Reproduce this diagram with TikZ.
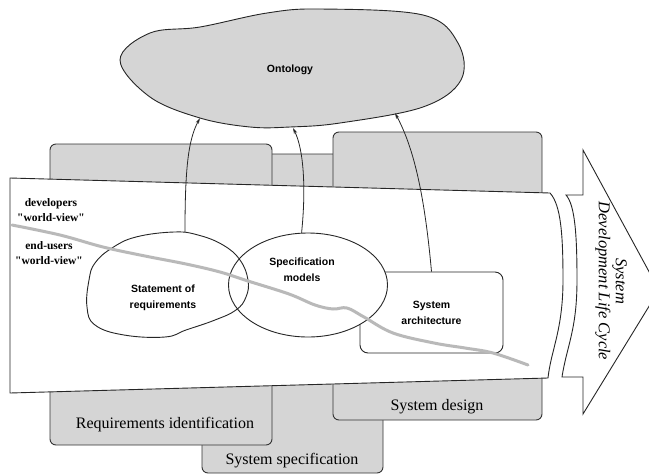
\documentclass[tikz,border=0pt]{standalone}
\usepackage{fontspec}
\setmainfont{Liberation Serif}
\setsansfont{Liberation Sans}
\usetikzlibrary{shapes.geometric, positioning, arrows.meta}
\tikzset{
    phase/.style = {draw=black!80, line width=0.9pt, fill=gray!33, rounded corners=6pt},
    phase label/.style = {font=\fontsize{16}{18}\selectfont},
    artefact/.style = {draw=black!85, line width=0.9pt},
    artefact label/.style = {font=\sffamily\bfseries\fontsize{10.5}{16}\selectfont, align=center},
    view label/.style = {font=\bfseries\fontsize{11.5}{15}\selectfont, align=center},
    refines/.style = {draw=black!85, line width=0.8pt, -{Stealth[length=6pt,width=3.5pt]}},
    divide/.style = {draw=gray!55, line width=3pt, line cap=round},
}

\begin{document}
\begin{tikzpicture}[x=1pt, y=-1pt]
            \clip (0,0) rectangle (649,475);

            \draw[phase] (202,154) rectangle (383,473);
            \draw[phase] (50,144) rectangle (272,445);
            \draw[phase] (333,132) rectangle (542,420);
            \node[phase label] (reqid) at (165,425) {Requirements identification};
            \node[phase label] (sysspec) at (292,461) {System specification};
            \node[phase label] (sysdes) at (437,407) {System design};

            \draw[artefact, fill=white] (10,178) -- (550,193)
                .. controls (561,205) and (563,235) .. (563,280)
                .. controls (563,330) and (551,350) .. (548,378) -- (10,393) -- cycle;

            \draw[artefact, fill=white] (583,150) -- (659,290) -- (583,414) -- (583,377) -- (562,377)
                .. controls (567,345) and (577,330) .. (577,280)
                .. controls (577,235) and (575,205) .. (566,195) -- (583,195) -- cycle;
            \node[rotate=-90, align=center, font=\itshape\fontsize{16.5}{17}\selectfont] (sdlc) at (611,281) {System\\Development Life Cycle};

            \draw[artefact, fill=gray!33] plot[smooth cycle, tension=0.6] coordinates {(120,60) (150,33) (200,27) (267,13) (320,9) (423,15) (458,43) (461,80) (423,107) (340,123) (290,127) (250,127) (200,118) (150,97)};
            \node[artefact label, font=\sffamily\bfseries\fontsize{10.5}{13}\selectfont] (onto) at (290,70) {Ontology};
            \coordinate (onto a) at (200,118);
            \coordinate (onto b) at (293,128);
            \coordinate (onto c) at (395,113);

            \node[artefact, fill=white, rounded corners=8pt, minimum width=143pt, minimum height=81pt, artefact label] (arch) at (431.5,312.5) {System\\architecture};
            \node[artefact, fill=white, ellipse, minimum width=159pt, minimum height=104pt] (spec) at (308,285) {};
            \node[artefact label] (spectxt) at (302,270) {Specification\\models};

            \draw[artefact] plot[smooth cycle, tension=0.7] coordinates {(112,248) (136,237) (174,232) (198,235) (223,245) (240,260) (248,280) (246,297) (236,310) (215,320) (186,330) (165,337) (124,335) (95,325) (87,307) (89,280) (95,263)};
            \node[artefact label] (stmt) at (163,298) {Statement of\\requirements};
            \coordinate (stmt top) at (185,232);

            \node[view label] (dev) at (51,210) {developers\\\textquotedbl world-view\textquotedbl};
            \node[view label] (users) at (49,253) {end-users\\\textquotedbl world-view\textquotedbl};

            \draw[divide] plot[smooth, tension=0.6] coordinates {(12,225) (60,235) (103,247) (145,256) (186,264) (220,272) (248,281) (289,294) (315,305) (333,309) (347,308) (364,317) (393,333) (434,343) (465,348) (493,353) (528,365)};

            \draw[refines] (stmt top) .. controls (185,170) and (188,140) .. (onto a);
            \draw[refines] (spec.97) .. controls (306,190) and (304,150) .. (onto b);
            \draw[refines] (arch.north) .. controls (425,200) and (415,150) .. (onto c);
        \end{tikzpicture}
\end{document}
